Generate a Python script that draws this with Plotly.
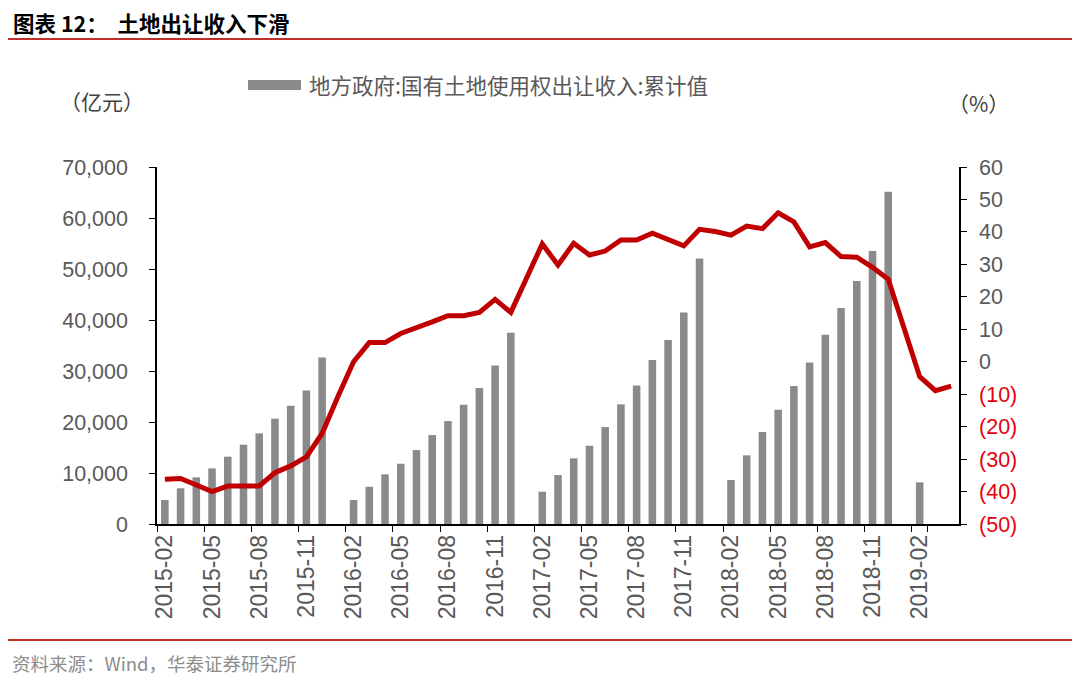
import plotly.graph_objects as go

months = []
for y in range(2015, 2020):
    for m in range(1, 13):
        if (y == 2015 and m < 2) or (y == 2019 and m > 4):
            continue
        months.append(f"{y}-{m:02d}")

land_revenue = [
    4700, 7000, 9150, 10900, 13200, 15550, 17770, 20650, 23200, 26200, 32670,
    None, 4700, 7300, 9740, 11820, 14500, 17440, 20190, 23390, 26660, 31100, 37500,
    None, 6330, 9600, 12870, 15350, 19010, 23460, 27180, 32140, 36060, 41490, 52070,
    None, 8620, 13460, 18030, 22410, 27050, 31690, 37110, 42340, 47630, 53510, 65130,
    None, 8170, None, None,
]
yoy_growth = [
    -36.2, -36.0, -38.0, -40.0, -38.3, -38.3, -38.3, -34.2, -32.1, -29.3, -22.1,
    -10.8, 0.0, 5.9, 5.9, 8.7, 10.3, 12.3, 14.2, 14.2, 15.2, 19.2, 15.2,
    25.7, 36.3, 29.8, 36.5, 32.9, 34.1, 37.5, 37.5, 39.6, 37.7, 35.7, 40.8,
    40.1, 39.0, 41.8, 41.0, 45.9, 43.1, 35.4, 36.7, 32.4, 32.2, 29.1, 25.4,
    9.8, -4.6, -8.9, -7.5,
]
tick_months = months[::3]
left_ticks = [0, 10000, 20000, 30000, 40000, 50000, 60000, 70000]
right_ticks = [-50, -40, -30, -20, -10, 0, 10, 20, 30, 40, 50, 60]
right_text = [f'<span style="color:#e8000b">({-v})</span>' if v < 0 else str(v) for v in right_ticks]

bar_name = "地方政府:国有土地使用权出让收入:累计值"
cjk = "Noto Sans CJK SC"
num_font = "Liberation Sans, Arial"

# plot area in page pixels (page has an 8px body margin)
PL, PR, PT, PB = 157, 959, 167, 524
W, H = PR - PL, PB - PT


def px(x):
    return (x - PL) / W


def py(y):
    return (PB - y) / H


fig = go.Figure()
fig.add_trace(go.Bar(x=months, y=land_revenue, name=bar_name,
                     marker=dict(color="#8a8a8a", line=dict(width=0)),
                     showlegend=False))
fig.add_trace(go.Scatter(x=months, y=yoy_growth, yaxis="y2", mode="lines",
                         line=dict(color="#c00000", width=5), showlegend=False,
                         name="同比"))

fig.update_layout(
    width=1064, height=676,
    margin=dict(l=PL - 8, r=1064 - (PR - 8), t=PT - 8, b=676 - (PB - 8)),
    paper_bgcolor="white", plot_bgcolor="white",
    bargap=0.52,
    xaxis=dict(type="category", categoryorder="array", categoryarray=months,
               tickmode="array", tickvals=tick_months, ticktext=tick_months,
               tickson="boundaries", tickangle=-90, ticks="outside", ticklen=6,
               tickcolor="black", showline=True, linecolor="black", linewidth=1.5,
               showgrid=False, range=[-0.5, len(months) - 0.5],
               tickfont=dict(family=num_font, size=23, color="#595959")),
    yaxis=dict(range=[0, 70000], tickvals=left_ticks, tickformat=",",
               ticks="outside", ticklen=6, tickcolor="black", showline=True,
               linecolor="black", linewidth=1.5, showgrid=False, zeroline=False,
               ticklabelstandoff=17,
               tickfont=dict(family=num_font, size=21.5, color="#595959")),
    yaxis2=dict(range=[-50, 60], overlaying="y", side="right",
                tickvals=right_ticks, ticktext=right_text, ticks="outside",
                ticklen=6, tickcolor="black", showline=True, linecolor="black",
                linewidth=1.5, showgrid=False, zeroline=False,
                ticklabelstandoff=8,
                tickfont=dict(family=num_font, size=21.5, color="#595959")),
    shapes=[
        dict(type="line", xref="paper", yref="paper", x0=px(8), x1=px(1072),
             y0=py(39), y1=py(39), line=dict(color="#c0302a", width=2)),
        dict(type="line", xref="paper", yref="paper", x0=px(8), x1=px(1072),
             y0=py(640), y1=py(640), line=dict(color="#c0302a", width=2)),
        dict(type="rect", xref="paper", yref="paper", x0=px(248), x1=px(301),
             y0=py(90), y1=py(80), fillcolor="#8a8a8a", line=dict(width=0)),
    ],
    annotations=[
        dict(text="<b>图表 12：  土地出让收入下滑</b>", xref="paper", yref="paper",
             x=px(11), y=py(22), xanchor="left", yanchor="middle",
             showarrow=False, font=dict(family=cjk, size=21.5, color="black")),
        dict(text=bar_name, xref="paper", yref="paper", x=px(307), y=py(85),
             xanchor="left", yanchor="middle", showarrow=False,
             font=dict(family=cjk, size=21.5, color="#595959")),
        dict(text="（亿元）", xref="paper", yref="paper", x=px(102), y=py(101),
             xanchor="center", yanchor="middle", showarrow=False,
             font=dict(family=cjk, size=21, color="#404040")),
        dict(text="（%）", xref="paper", yref="paper", x=px(978), y=py(103),
             xanchor="center", yanchor="middle", showarrow=False,
             font=dict(family=cjk, size=21, color="#404040")),
        dict(text="资料来源：Wind，华泰证券研究所", xref="paper", yref="paper",
             x=px(10), y=py(663), xanchor="left", yanchor="middle",
             showarrow=False, font=dict(family=cjk, size=18.5, color="#8c8c8c")),
    ],
)

fig.write_html("out.html")
